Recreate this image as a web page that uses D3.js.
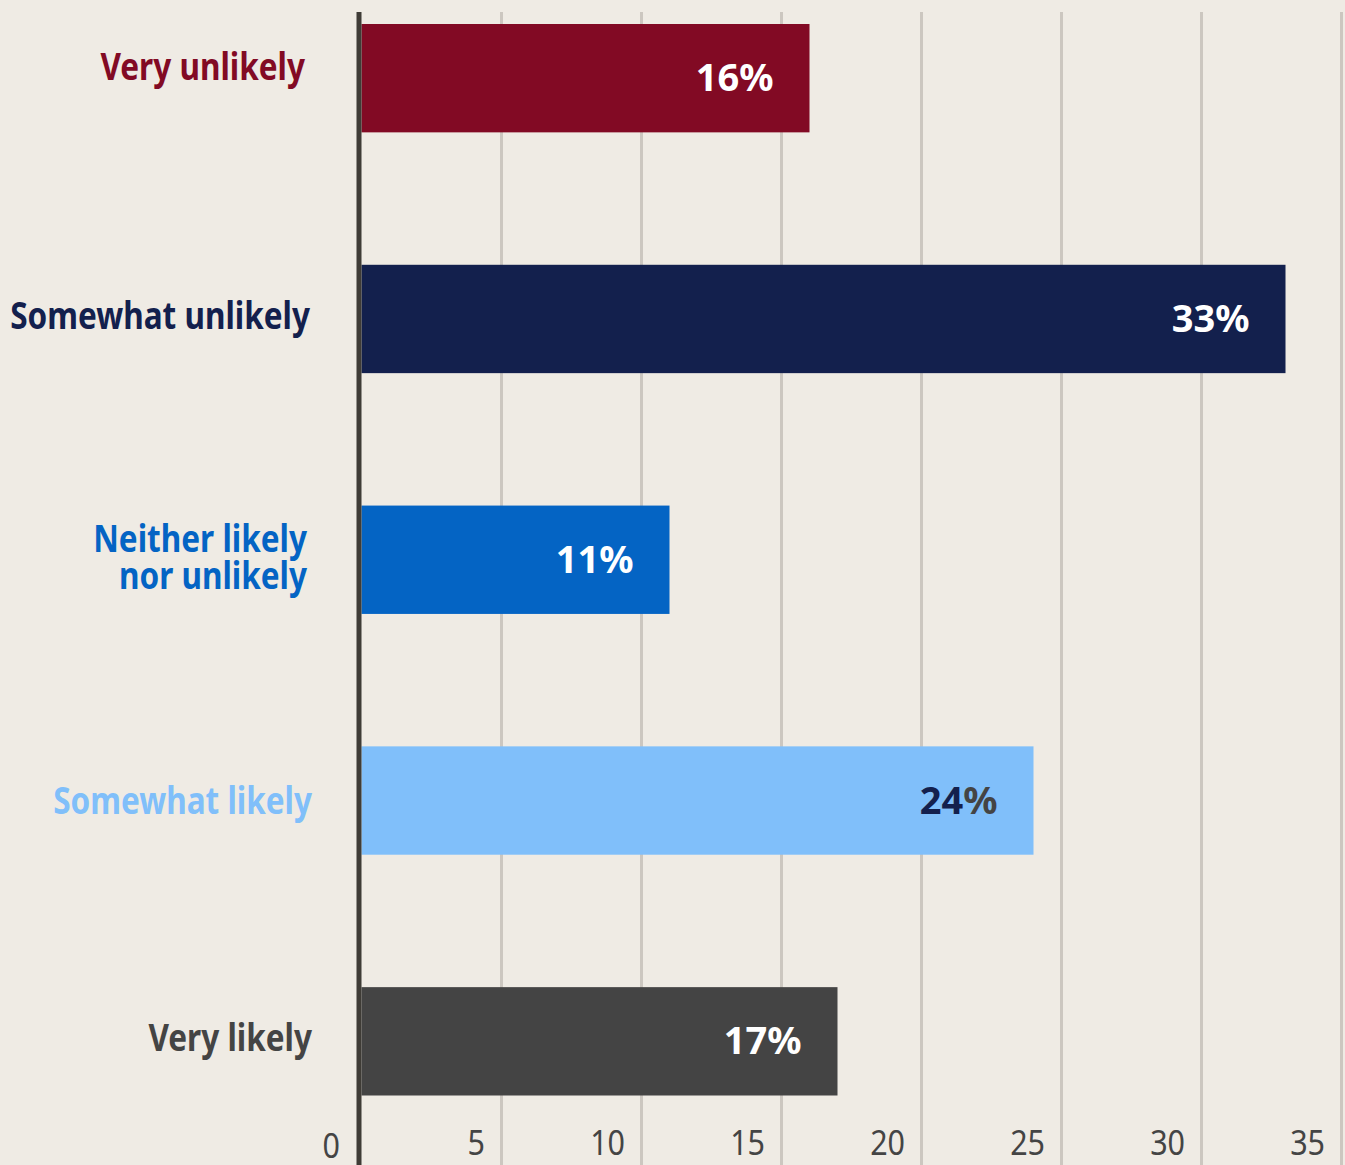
<!DOCTYPE html>
<html>
<head>
<meta charset="utf-8">
<script src="https://cdn.jsdelivr.net/npm/d3@7"></script>
<style>
  html, body { margin: 0; padding: 0; background: #efebe4; }
  svg { display: block; }
  text { font-family: "Noto Sans", "Open Sans", sans-serif; }
</style>
</head>
<body>
<svg id="chart" width="1345" height="1165"></svg>
<script>
// Survey answers, one bar per answer
const categories = ["Very unlikely", "Somewhat unlikely", "Neither likely nor unlikely", "Somewhat likely", "Very likely"];
const labelLines = [["Very unlikely"], ["Somewhat unlikely"], ["Neither likely", "nor unlikely"], ["Somewhat likely"], ["Very likely"]];
const values = [16, 33, 11, 24, 17];
const tickValues = [0, 5, 10, 15, 20, 25, 30, 35];

// Styling
const barColors = ["#820a24", "#13204d", "#0464c4", "#80bffa", "#444444"];
const labelColors = ["#820a24", "#13204d", "#0464c4", "#80bffa", "#444444"];
const valueColors = ["#ffffff", "#ffffff", "#ffffff", "#13204d", "#ffffff"];
const labelNudge = [-12, -3, -3, 0, -4];
const labelRight = [305, 310, 307, 312, 312];
const condense = 0.83;

const W = 1345, H = 1165;
const svg = d3.select("#chart");

svg.append("rect").attr("width", W).attr("height", H).attr("fill", "#efebe4");

const x = d3.scaleLinear().domain([0, 35]).range([361.5, 1341.5]);
const y = d3.scaleBand().domain(categories).range([24, 1095.5]).paddingInner(0.55).paddingOuter(0);

// Vertical gridlines
svg.append("g").selectAll("line")
  .data(tickValues.filter(t => t > 0))
  .join("line")
  .attr("x1", d => x(d)).attr("x2", d => x(d))
  .attr("y1", 12).attr("y2", H)
  .attr("stroke", "#ccc7c0").attr("stroke-width", 3);

// Bars
svg.append("g").selectAll("rect")
  .data(values)
  .join("rect")
  .attr("x", x(0))
  .attr("y", (d, i) => y(categories[i]))
  .attr("width", d => x(d) - x(0))
  .attr("height", y.bandwidth())
  .attr("fill", (d, i) => barColors[i]);

// Zero axis line
svg.append("line")
  .attr("x1", 359).attr("x2", 359)
  .attr("y1", 12).attr("y2", H)
  .attr("stroke", "#3f3c36").attr("stroke-width", 5);

// Bottom tick labels
const xAxis = d3.axisBottom(x).tickValues(tickValues).tickSize(0).tickFormat(d3.format("d"));
const axisG = svg.append("g").call(xAxis);
axisG.select(".domain").remove();
axisG.selectAll(".tick text")
  .attr("text-anchor", "end")
  .attr("font-size", 35)
  .attr("fill", "#444444")
  .attr("dy", null)
  .attr("y", null)
  .attr("transform", d => `translate(${d === 0 ? -22 : -17},${d === 0 ? 1158 : 1155}) scale(0.87,1)`);

// Value labels inside bars
const valG = svg.append("g");
values.forEach((v, i) => {
  const cy = y(categories[i]) + y.bandwidth() / 2;
  const t = valG.append("text")
    .attr("x", x(v) - 36)
    .attr("y", cy + 13)
    .attr("text-anchor", "end")
    .attr("font-size", 38)
    .attr("font-weight", 700)
    .attr("fill", valueColors[i]);
  t.append("tspan").text(v);
  t.append("tspan").attr("fill", i === 3 ? "#444444" : valueColors[i]).text("%");
});

// Category labels
const labG = svg.append("g");
labelLines.forEach((lines, i) => {
  const cy = y(categories[i]) + y.bandwidth() / 2 + labelNudge[i];
  const lh = 37;
  const first = cy + 13.5 - (lines.length - 1) * lh / 2;
  lines.forEach((line, j) => {
    labG.append("text")
      .attr("transform", `translate(${labelRight[i]},${first + j * lh}) scale(${condense},1)`)
      .attr("text-anchor", "end")
      .attr("font-size", 38)
      .attr("font-weight", 700)
      .attr("fill", labelColors[i])
      .text(line);
  });
});
</script>
</body>
</html>
